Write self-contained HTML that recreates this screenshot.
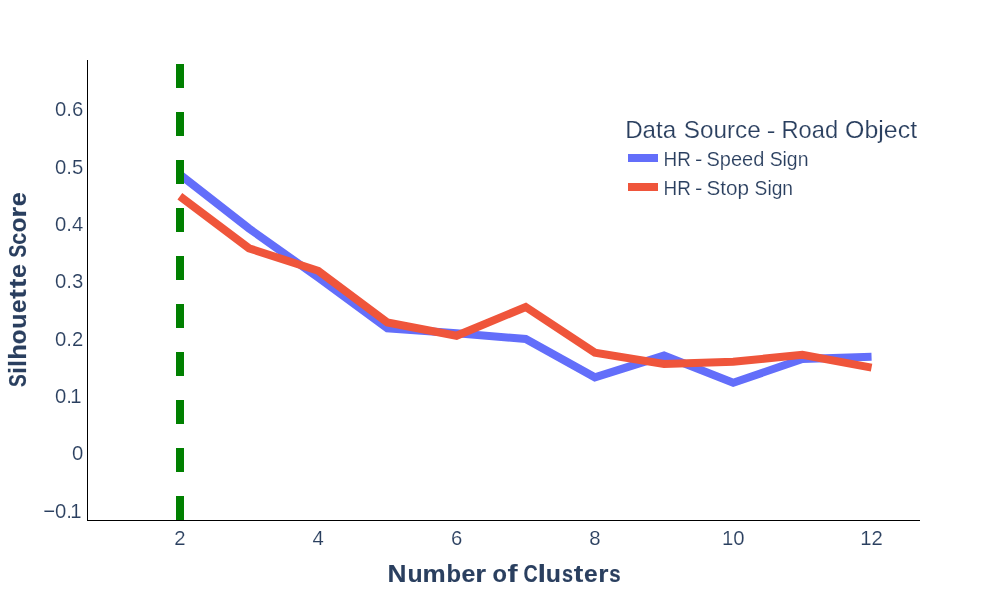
<!DOCTYPE html>
<html>
<head>
<meta charset="utf-8">
<title>Silhouette Score</title>
<style>
  html, body { margin: 0; padding: 0; background: #ffffff; }
  body { width: 1000px; height: 600px; overflow: hidden; }
  svg { display: block; will-change: transform; }
  text { font-family: "Liberation Sans", sans-serif; fill: #2a3f5f; }
  .tick { font-size: 20.3px; stroke: #ffffff; stroke-width: 0.15px; }
  .ttl { font-size: 24.6px; font-weight: bold; stroke: #2a3f5f; stroke-width: 0.15px; }
  .lt { font-size: 24.6px; stroke: #ffffff; stroke-width: 0.18px; }
  .li { font-size: 20.3px; stroke: #ffffff; stroke-width: 0.15px; }
</style>
</head>
<body>
<svg width="1000" height="600" viewBox="0 0 1000 600">
  <!-- traces -->
  <g fill="none" stroke-width="8" stroke-linejoin="miter" stroke-linecap="butt" stroke-miterlimit="4">
    <polyline stroke="#636efa" points="179.85,174.5 249.02,228.5 318.19,277.6 387.36,328.3 456.53,333.2 525.70,339.0 594.87,377.3 664.04,355.6 733.21,382.8 802.38,359.0 871.55,356.8"/>
    <polyline stroke="#ef553b" points="179.85,196.2 249.02,248.3 318.19,270.8 387.36,322.4 456.53,335.8 525.70,307.0 594.87,352.7 664.04,363.9 733.21,361.8 802.38,354.8 871.55,367.6"/>
  </g>
  <!-- vertical dashed line -->
  <path d="M180,520 L180,60" stroke="#008000" stroke-width="8" stroke-dasharray="24,24" fill="none"/>
  <!-- axis lines -->
  <rect x="87" y="60" width="1" height="461" fill="#000"/>
  <rect x="87" y="520" width="833" height="1" fill="#000"/>
  <!-- x tick labels -->
  <g class="tick" text-anchor="middle">
    <text x="179.85" y="545">2</text>
    <text x="318.19" y="545">4</text>
    <text x="456.53" y="545">6</text>
    <text x="594.87" y="545">8</text>
    <text x="733.21" y="545">10</text>
    <text x="871.55" y="545">12</text>
  </g>
  <!-- y tick labels -->
  <g class="tick" text-anchor="end">
    <text x="83.2" y="116">0.6</text>
    <text x="83.2" y="174">0.5</text>
    <text x="83.2" y="231">0.4</text>
    <text x="83.2" y="288">0.3</text>
    <text x="83.2" y="346">0.2</text>
    <text x="81.6" y="403">0.<tspan dx="-1.6">1</tspan></text>
    <text x="83.2" y="460">0</text>
    <text x="81.6" y="518">−0.<tspan dx="-1.6">1</tspan></text>
  </g>
  <!-- legend swatches -->
  <rect x="628" y="154" width="30" height="8" fill="#636efa"/>
  <rect x="628" y="183" width="30" height="8" fill="#ef553b"/>
  <!-- text words -->
  <text class="lt" x="625.17" y="138" textLength="51.03" lengthAdjust="spacingAndGlyphs">Data</text>
  <text class="lt" x="683.75" y="138" textLength="76.99" lengthAdjust="spacingAndGlyphs">Source</text>
  <text class="lt" x="766.70" y="138" textLength="8.70" lengthAdjust="spacingAndGlyphs">-</text>
  <text class="lt" x="781.50" y="138" textLength="56.64" lengthAdjust="spacingAndGlyphs">Road</text>
  <text class="lt" x="845.14" y="138" textLength="71.94" lengthAdjust="spacingAndGlyphs">Object</text>
  <text class="li" x="663.52" y="166" textLength="27.27" lengthAdjust="spacingAndGlyphs">HR</text>
  <text class="li" x="695.05" y="166" textLength="7.37" lengthAdjust="spacingAndGlyphs">-</text>
  <text class="li" x="706.54" y="166" textLength="57.84" lengthAdjust="spacingAndGlyphs">Speed</text>
  <text class="li" x="769.63" y="166" textLength="38.83" lengthAdjust="spacingAndGlyphs">Sign</text>
  <text class="li" x="663.52" y="195" textLength="27.27" lengthAdjust="spacingAndGlyphs">HR</text>
  <text class="li" x="695.05" y="195" textLength="7.37" lengthAdjust="spacingAndGlyphs">-</text>
  <text class="li" x="706.55" y="195" textLength="42.54" lengthAdjust="spacingAndGlyphs">Stop</text>
  <text class="li" x="754.59" y="195" textLength="38.46" lengthAdjust="spacingAndGlyphs">Sign</text>
  <!-- x axis title (per glyph) -->
  <text class="ttl" x="387.49" y="582" textLength="18.99" lengthAdjust="spacingAndGlyphs">N</text>
  <text class="ttl" x="407.49" y="582" textLength="15.15" lengthAdjust="spacingAndGlyphs">u</text>
  <text class="ttl" x="422.61" y="582" textLength="23.16" lengthAdjust="spacingAndGlyphs">m</text>
  <text class="ttl" x="446.55" y="582" textLength="14.54" lengthAdjust="spacingAndGlyphs">b</text>
  <text class="ttl" x="461.48" y="582" textLength="13.91" lengthAdjust="spacingAndGlyphs">e</text>
  <text class="ttl" x="475.29" y="582" textLength="10.83" lengthAdjust="spacingAndGlyphs">r</text>
  <text class="ttl" x="492.54" y="582" textLength="14.45" lengthAdjust="spacingAndGlyphs">o</text>
  <text class="ttl" x="507.61" y="582" textLength="10.08" lengthAdjust="spacingAndGlyphs">f</text>
  <text class="ttl" x="523.50" y="582" textLength="14.18" lengthAdjust="spacingAndGlyphs">C</text>
  <text class="ttl" x="537.85" y="582" textLength="8.24" lengthAdjust="spacingAndGlyphs">l</text>
  <text class="ttl" x="545.79" y="582" textLength="15.15" lengthAdjust="spacingAndGlyphs">u</text>
  <text class="ttl" x="561.98" y="582" textLength="11.02" lengthAdjust="spacingAndGlyphs">s</text>
  <text class="ttl" x="573.65" y="582" textLength="9.59" lengthAdjust="spacingAndGlyphs">t</text>
  <text class="ttl" x="583.90" y="582" textLength="13.68" lengthAdjust="spacingAndGlyphs">e</text>
  <text class="ttl" x="598.29" y="582" textLength="10.20" lengthAdjust="spacingAndGlyphs">r</text>
  <text class="ttl" x="609.15" y="582" textLength="11.36" lengthAdjust="spacingAndGlyphs">s</text>
  <!-- y axis title (per glyph) -->
  <text class="ttl" transform="translate(26,387.03) rotate(-90)" textLength="12.80" lengthAdjust="spacingAndGlyphs">S</text>
  <text class="ttl" transform="translate(26,374.05) rotate(-90)" textLength="7.04" lengthAdjust="spacingAndGlyphs">i</text>
  <text class="ttl" transform="translate(26,366.95) rotate(-90)" textLength="7.04" lengthAdjust="spacingAndGlyphs">l</text>
  <text class="ttl" transform="translate(26,359.67) rotate(-90)" textLength="15.66" lengthAdjust="spacingAndGlyphs">h</text>
  <text class="ttl" transform="translate(26,344.18) rotate(-90)" textLength="14.80" lengthAdjust="spacingAndGlyphs">o</text>
  <text class="ttl" transform="translate(26,328.63) rotate(-90)" textLength="15.28" lengthAdjust="spacingAndGlyphs">u</text>
  <text class="ttl" transform="translate(26,312.89) rotate(-90)" textLength="13.57" lengthAdjust="spacingAndGlyphs">e</text>
  <text class="ttl" transform="translate(26,298.85) rotate(-90)" textLength="9.59" lengthAdjust="spacingAndGlyphs">t</text>
  <text class="ttl" transform="translate(26,287.94) rotate(-90)" textLength="9.38" lengthAdjust="spacingAndGlyphs">t</text>
  <text class="ttl" transform="translate(26,278.12) rotate(-90)" textLength="13.91" lengthAdjust="spacingAndGlyphs">e</text>
  <text class="ttl" transform="translate(26,257.53) rotate(-90)" textLength="12.80" lengthAdjust="spacingAndGlyphs">S</text>
  <text class="ttl" transform="translate(26,244.63) rotate(-90)" textLength="12.02" lengthAdjust="spacingAndGlyphs">c</text>
  <text class="ttl" transform="translate(26,232.60) rotate(-90)" textLength="15.03" lengthAdjust="spacingAndGlyphs">o</text>
  <text class="ttl" transform="translate(26,217.63) rotate(-90)" textLength="10.96" lengthAdjust="spacingAndGlyphs">r</text>
  <text class="ttl" transform="translate(26,206.33) rotate(-90)" textLength="14.03" lengthAdjust="spacingAndGlyphs">e</text>
</svg>
</body>
</html>
